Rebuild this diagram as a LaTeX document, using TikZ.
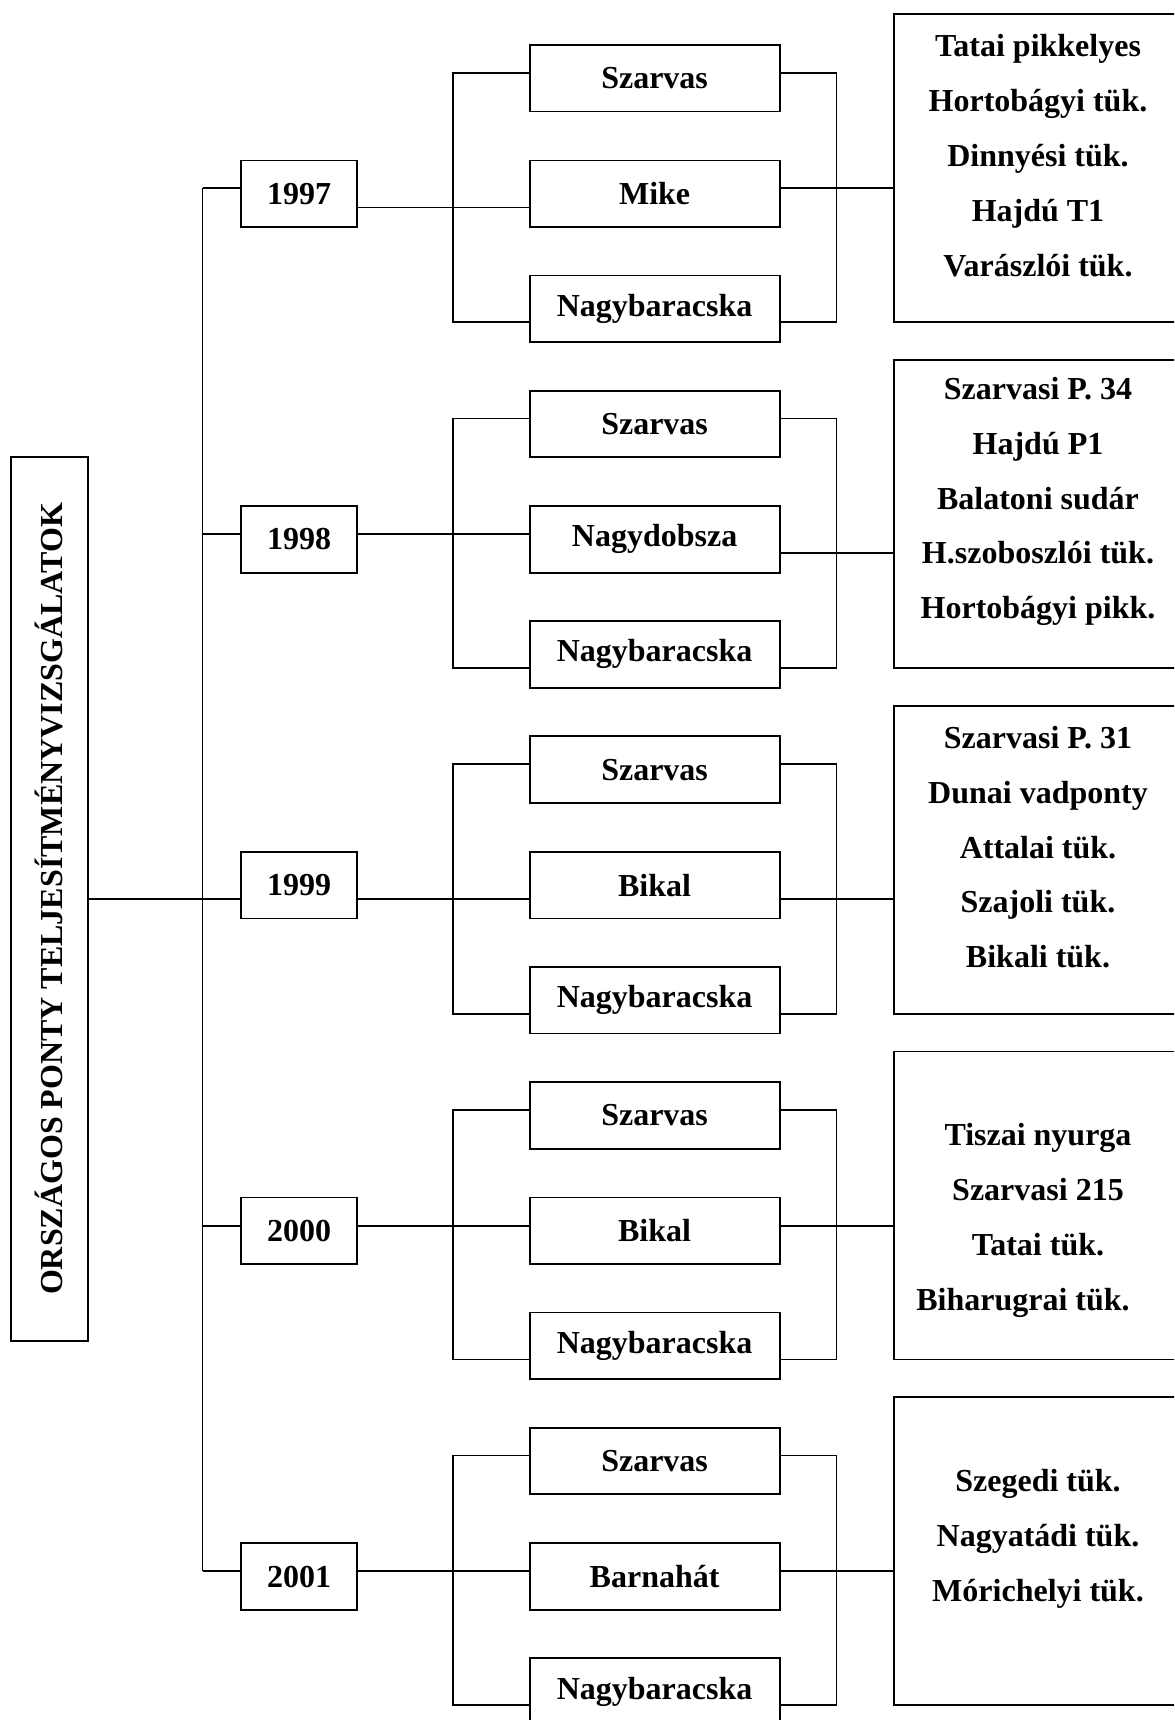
\documentclass[tikz,border=0pt]{standalone}
\usepackage{fontspec}
\setmainfont{Liberation Serif}
\tikzset{
  box/.style={draw, inner sep=0pt, minimum height=33.3pt,
    font=\fontsize{16}{19}\selectfont\bfseries},
  yearbox/.style={box, minimum width=58pt},
  midbox/.style={box, minimum width=125pt},
  rbox/.style={draw, minimum width=145.5pt, minimum height=154pt, inner sep=0pt},
  rtext/.style={align=center, inner sep=0pt, font=\fontsize{16}{27.45}\selectfont\bfseries},
}
\newcommand\yeargroup[9]{%
\begin{scope}[shift={(0,#2)}]
\node[yearbox] (y#1) at (299,193.7) {#3};
\node[midbox] (s#1) at (654.6,78.2) {Szarvas};
\node[midbox] (m#1) at (654.6,193.7) {#4};
\node[midbox] (n#1) at (654.6,308.7) {Nagybaracska};
\node[rbox] (r#1) at (1039.5,168.3) {};
\node[rtext] (t#1) at (1038,#8) {#9};
\coordinate (b#1) at (202.5,#5);
\coordinate (o#1) at (0,#6);
\coordinate (mm#1) at (0,#7);
\coordinate (lt#1) at (452.8,72.7);
\coordinate (lb#1) at (452.8,322.3);
\coordinate (rt#1) at (836.5,72.7);
\coordinate (rb#1) at (836.5,322.3);
\draw (b#1) -- (y#1.west |- b#1);
\draw (y#1.east |- o#1) -- (m#1.west |- o#1);
\draw (m#1.east |- mm#1) -- (r#1.west |- mm#1);
\draw (s#1.west |- lt#1) -- (lt#1) -- (lb#1) -- (n#1.west |- lb#1);
\draw (s#1.east |- rt#1) -- (rt#1) -- (rb#1) -- (n#1.east |- rb#1);
\end{scope}}
\begin{document}
\begin{tikzpicture}[x=0.5pt, y=-0.5pt, line width=0.9pt]
\useasboundingbox (0,0) rectangle (1174,1720);
\fill[white] (0,0) rectangle (1174,1720);
\clip (0,0) rectangle (1174,1720);
\node[draw, rotate=90, minimum width=442pt, minimum height=38.5pt, inner sep=0pt,
  font=\fontsize{16}{19}\selectfont\bfseries] (title) at (49.5,899) {ORSZÁGOS PONTY TELJESÍTMÉNYVIZSGÁLATOK};
\yeargroup{0}{0}{1997}{Mike}{188.3}{207.5}{188.3}{155.8}{Tatai pikkelyes\\Hortobágyi tük.\\Dinnyési tük.\\Hajdú T1\\Varászlói tük.}
\yeargroup{1}{345.7}{1998}{Nagydobsza}{188}{188}{207.5}{155.8}{Szarvasi P. 34\\Hajdú P1\\Balatoni sudár\\H.szoboszlói tük.\\Hortobágyi pikk.}
\yeargroup{2}{691.4}{1999}{Bikal}{207.5}{207.5}{207.5}{155.8}{Szarvasi P. 31\\Dunai vadponty\\Attalai tük.\\Szajoli tük.\\Bikali tük.}
\yeargroup{3}{1037.1}{2000}{Bikal}{188.5}{188.5}{188.5}{183}{Tiszai nyurga\\Szarvasi 215\\Tatai tük.\\Biharugrai tük.\hspace*{15pt}}
\yeargroup{4}{1382.8}{2001}{Barnahát}{188}{188}{188}{155.8}{Szegedi tük.\\Nagyatádi tük.\\Mórichelyi tük.}
\draw (b0) -- (b4);
\draw (title.south) -- (title.south -| b2);
\end{tikzpicture}
\end{document}
